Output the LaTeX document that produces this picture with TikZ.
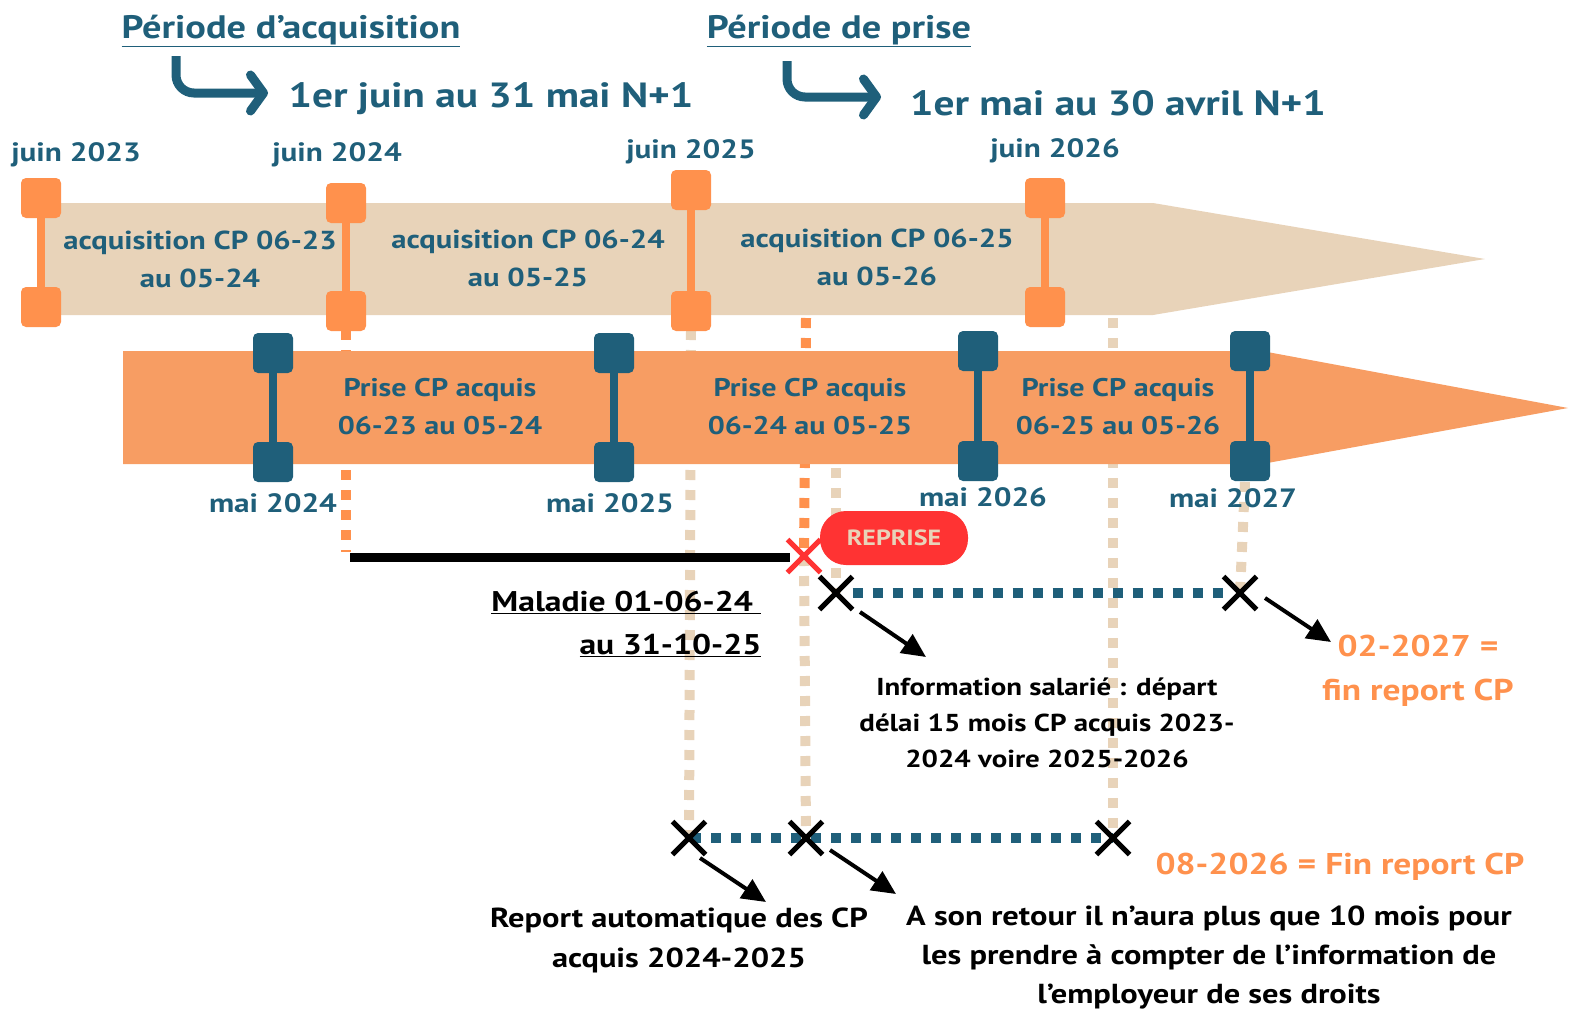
\documentclass[tikz,border=0pt]{standalone}
\usepackage{fontspec}
\setmainfont{PT Sans}[FakeStretch=1.18]
\usepackage{tikz}
\usetikzlibrary{arrows.meta,shapes.misc}

\definecolor{tealc}{HTML}{1F5F7A}
\definecolor{beigec}{HTML}{E8D3B9}
\definecolor{orangem}{HTML}{FF914D}
\definecolor{orangeb}{HTML}{F79D63}
\definecolor{redc}{HTML}{FF3333}

\begin{document}
\begin{tikzpicture}[
    x=1pt, y=-1pt,
    acqsq/.style={fill=orangem, rounded corners=5pt, minimum size=40pt, inner sep=0pt},
    prsq/.style={fill=tealc, rounded corners=5pt, minimum size=40pt, inner sep=0pt},
    acqbar/.style={orangem, line width=8pt},
    prbar/.style={tealc, line width=8pt},
    head/.style={text=tealc, font=\bfseries\fontsize{32.5}{38}\selectfont},
    periodlbl/.style={text=tealc, font=\bfseries\fontsize{35}{42}\selectfont},
    datelbl/.style={text=tealc, font=\bfseries\fontsize{26.5}{30}\selectfont},
    bandlbl/.style={text=tealc, align=center, font=\bfseries\fontsize{26}{38}\selectfont},
    prlbl/.style={text=tealc, align=center, font=\bfseries\fontsize{25.5}{38}\selectfont},
    note/.style={text=black, align=center, font=\bfseries\fontsize{24.5}{36}\selectfont},
    finlbl/.style={text=orangem, align=center, font=\bfseries\fontsize{30}{44}\selectfont},
    bdots/.style={beigec, line width=10pt, dash pattern=on 10pt off 10pt},
    odots/.style={orangem, line width=10pt, dash pattern=on 10pt off 10pt},
    tdots/.style={tealc, line width=10pt, dash pattern=on 10pt off 10pt},
    xmark/.style={cross out, draw=black, line width=5pt, minimum size=28pt, inner sep=0pt},
    turn/.style={tealc, line width=9pt, rounded corners=18pt,
        -{Straight Barb[length=13pt, width=36pt, line cap=round, line join=round]}},
    pointer/.style={line width=4pt, -{Triangle[length=24pt, width=22pt]}}
]
\useasboundingbox (0,0) rectangle (1575,1010);

% headings
\node[head] (hdacq) at (291,31) {\underline{Période d’acquisition}};
\node[head] (hdprise) at (839,31) {\underline{Période de prise}};
\node[periodlbl] (rgacq) at (491,99) {1er juin au 31 mai N+1};
\node[periodlbl] (rgprise) at (1118,103) {1er mai au 30 avril N+1};
\coordinate (t1s) at (176,56);
\coordinate (t1e) at (268,93);
\coordinate (t2s) at (787,61);
\coordinate (t2e) at (881,97);
\draw[turn] (t1s) |- (t1e);
\draw[turn] (t2s) |- (t2e);

% marks on the timeline
\coordinate (xa) at (689,838);
\coordinate (xb) at (806,838);
\coordinate (xc) at (1113,838);
\coordinate (xd) at (836,593);
\coordinate (xe) at (1240,593);
\coordinate (rx) at (804,556);

% dotted guides, under the bands
\draw[bdots] (691,330) -- (xa);
\draw[bdots] (1113,318) -- (xc);
\draw[bdots] (rx) -- (xb);
\draw[bdots] (836,468) -- (xd);
\draw[bdots] (1245,482) -- (xe);
\draw[odots] (806,318) -- (rx);
\draw[odots] (346,330) -- (346,552);

% bands
\fill[beigec] (40,203) -- (1153,203) -- (1485,259) -- (1153,315) -- (40,315) -- cycle;
\fill[orangeb] (123,351) -- (1262,351) -- (1568,408) -- (1262,464) -- (123,464) -- cycle;

% markers
\foreach \x/\yt/\yb [count=\i] in {41/198/307, 346/203/311, 691/190/311, 1045/198/307} {
    \node[acqsq] (at\i) at (\x,\yt) {};
    \node[acqsq] (ab\i) at (\x,\yb) {};
    \draw[acqbar] (at\i) -- (ab\i);
}
\foreach \x/\yt/\yb [count=\i] in {273/353/462, 614/353/462, 978/351/461, 1250/351/461} {
    \node[prsq] (pt\i) at (\x,\yt) {};
    \node[prsq] (pb\i) at (\x,\yb) {};
    \draw[prbar] (pt\i) -- (pb\i);
}

% dates
\node[datelbl] (j23) at (76,155) {juin 2023};
\node[datelbl] (j24) at (337,155) {juin 2024};
\node[datelbl] (j25) at (691,152) {juin 2025};
\node[datelbl] (j26) at (1055,151) {juin 2026};
\node[datelbl] (m24) at (273,503) {mai 2024};
\node[datelbl] (m25) at (610,503) {mai 2025};
\node[datelbl] (m26) at (983,497) {mai 2026};
\node[datelbl] (m27) at (1233,498) {mai 2027};

% band texts
\node[bandlbl] (acq1) at (200,259) {acquisition CP 06-23\\au 05-24};
\node[bandlbl] (acq2) at (528,258) {acquisition CP 06-24\\au 05-25};
\node[bandlbl] (acq3) at (877,257) {acquisition CP 06-25\\au 05-26};
\node[prlbl] (pr1) at (440,407) {Prise CP acquis\\06-23 au 05-24};
\node[prlbl] (pr2) at (810,407) {Prise CP acquis\\06-24 au 05-25};
\node[prlbl] (pr3) at (1118,407) {Prise CP acquis\\06-25 au 05-26};

% illness and return
\coordinate (mal0) at (350,557);
\draw[line width=9pt] (mal0) -- (790,557);
\node[cross out, draw=redc, line width=5pt, minimum size=28pt, inner sep=0pt] (rxm) at (rx) {};
\node[fill=redc, rounded corners=26pt, minimum width=148pt, minimum height=54pt,
      text=beigec, font=\bfseries\fontsize{22}{26}\selectfont] (reprise) at (894,538) {REPRISE};
\node[note, anchor=east, align=right, font=\bfseries\fontsize{28.5}{43}\selectfont] (maladie) at (765,624)
    {\underline{Maladie 01-06-24\ }\\\underline{au 31-10-25}};

% carry-over periods
\node[xmark] (xdm) at (xd) {};
\node[xmark] (xem) at (xe) {};
\draw[tdots] (xdm) -- (xem);
\draw[tdots, shorten <=2pt] (xa) -- (xc);
\node[xmark] (xam) at (xa) {};
\node[xmark] (xbm) at (xb) {};
\node[xmark] (xcm) at (xc) {};

% notes
\node[note] (info) at (1047,723) {Information salarié : départ\\délai 15 mois CP acquis 2023-\\2024 voire 2025-2026};
\node[finlbl] (fin27) at (1418,671) {02-2027 =\\fin report CP};
\node[finlbl] (fin26) at (1340,867) {08-2026 = Fin report CP};
\node[note, font=\bfseries\fontsize{27.5}{40}\selectfont] (report) at (679,940) {Report automatique des CP\\acquis 2024-2025};
\node[note, font=\bfseries\fontsize{27.5}{39}\selectfont] (retour) at (1209,957) {A son retour il n’aura plus que 10 mois pour\\les prendre à compter de l’information de\\l’employeur de ses droits};

\coordinate (pi0) at (860,612);
\coordinate (pi1) at (926,657);
\coordinate (pf0) at (1265,598);
\coordinate (pf1) at (1331,642);
\coordinate (pr0) at (700,858);
\coordinate (pr1) at (766,902);
\coordinate (pt0) at (830,850);
\coordinate (pt1) at (896,894);
\draw[pointer] (pi0) -- (pi1);
\draw[pointer] (pf0) -- (pf1);
\draw[pointer] (pr0) -- (pr1);
\draw[pointer] (pt0) -- (pt1);
\end{tikzpicture}
\end{document}
